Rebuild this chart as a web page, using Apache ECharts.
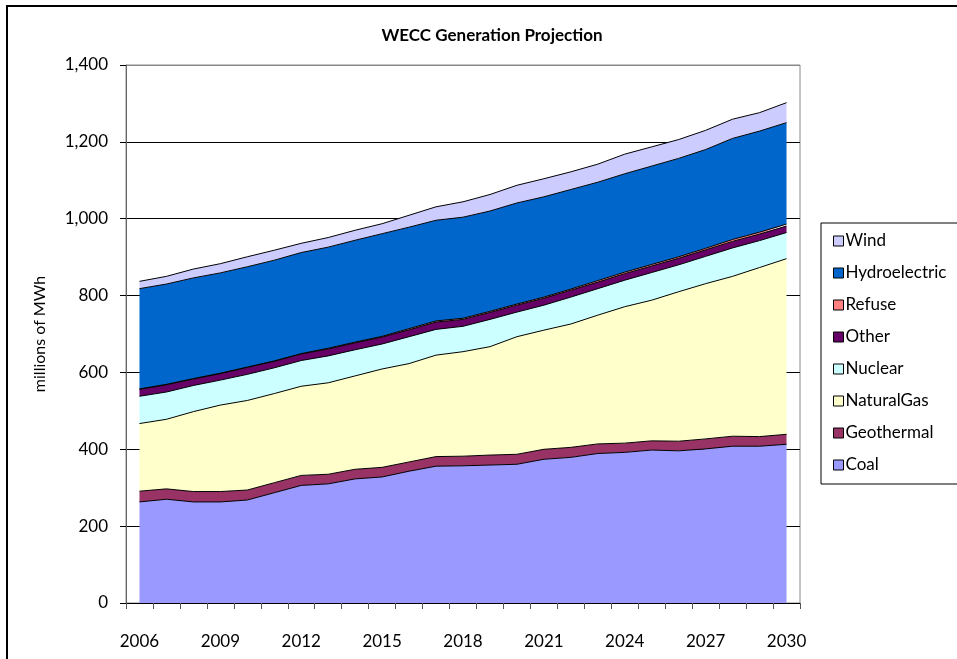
<!DOCTYPE html>
<html>
<head>
<meta charset="utf-8">
<script src="https://cdn.jsdelivr.net/npm/echarts@6/dist/echarts.min.js"></script>
<style>
html,body{margin:0;padding:0;background:#fff;}
#c{width:957px;height:659px;}
</style>
</head>
<body>
<div id="c"></div>
<script>
const years = ['2006','2007','2008','2009','2010','2011','2012','2013','2014','2015','2016','2017','2018','2019','2020','2021','2022','2023','2024','2025','2026','2027','2028','2029','2030'];
const coal =        [263,270,263,263,268,287,306,310,323,328,343,356,357,359,361,374,379,389,392,398,396,401,408,408,413];
const geothermal =  [28,27,27,27,26,26,26,25,25,25,24,25,25,26,26,26,26,25,24,24,25,26,26,25,26];
const naturalGas =  [176,181,208,225,233,232,232,238,243,256,256,264,272,282,306,310,321,335,355,366,389,404,416,440,457];
const nuclear =     [71,71,68,65,68,67,67,70,68,65,70,67,66,71,64,65,70,69,69,72,70,71,74,70,68];
const other =       [18,19,17,17,18,17,17,18,18,18,18,19,18,18,18,18,18,17,17,17,17,17,17,17,17];
const refuse =      [1,1,1,1,1,1,1,2,2,2,3,3,3,3,3,3,3,4,4,4,4,4,5,5,5];
const hydro =       [261,261,262,261,261,262,263,263,265,267,264,262,263,261,263,261,259,256,256,256,256,257,263,263,264];
const wind =        [19,20,23,24,26,26,24,25,26,26,31,35,40,43,46,47,46,47,51,50,49,50,50,48,52];
const yTicks = [0,200,400,600,800,1000,1200,1400];

const seriesDefs = [
  ['Coal', coal, '#9999FF'],
  ['Geothermal', geothermal, '#993366'],
  ['NaturalGas', naturalGas, '#FFFFCC'],
  ['Nuclear', nuclear, '#CCFFFF'],
  ['Other', other, '#660066'],
  ['Refuse', refuse, '#FF8080'],
  ['Hydroelectric', hydro, '#0066CC'],
  ['Wind', wind, '#CCCCFF']
];
const FONT = 'Lato';
const chart = echarts.init(document.getElementById('c'), null, {renderer:'canvas'});
chart.setOption({
  animation: false,
  backgroundColor: '#fff',
  title: {
    text: 'WECC Generation Projection',
    left: 487, top: 22, textAlign: 'center',
    textStyle: {fontFamily: FONT, fontSize: 17, fontWeight: 'bold', color: '#000'}
  },
  grid: {left: 126, right: 157, top: 65, bottom: 56, show: true, borderColor: '#888', borderWidth: 1, backgroundColor: 'transparent'},
  legend: {
    orient: 'vertical', left: 828, top: 226,
    icon: 'rect', itemWidth: 10, itemHeight: 10, itemGap: 12,
    itemStyle: {borderColor: '#000', borderWidth: 1},
    textStyle: {fontFamily: FONT, fontSize: 17, color: '#000', lineHeight: 20, padding: [0,0,0,-3]},
    data: ['Wind','Hydroelectric','Refuse','Other','Nuclear','NaturalGas','Geothermal','Coal'],
    selectedMode: false
  },
  xAxis: {
    type: 'category', data: years, boundaryGap: true,
    axisLine: {lineStyle: {color: '#000', width: 1}},
    axisTick: {show: true, interval: 0, length: 6, lineStyle: {color: '#555'}},
    axisLabel: {interval: 2, margin: 30, fontFamily: FONT, fontSize: 17, color: '#000'}
  },
  yAxis: {
    type: 'value', min: 0, max: 1400, interval: 200,
    name: 'millions of MWh', nameLocation: 'middle', nameGap: 78,
    nameTextStyle: {fontFamily: FONT, fontSize: 16, color: '#000'},
    axisLine: {show: true, lineStyle: {color: '#666', width: 1}},
    axisTick: {show: true, length: 6, lineStyle: {color: '#000'}},
    axisLabel: {margin: 18, fontFamily: FONT, fontSize: 17, color: '#000',
      formatter: v => v.toLocaleString('en-US')},
    splitLine: {show: true, lineStyle: {color: ['#000','#000','#000','#000','#000','#000','#000','#888'], width: 1}}
  },
  graphic: [
    {type: 'rect', shape: {x: 821, y: 223, width: 200, height: 261}, style: {fill: '#fff', stroke: '#000', lineWidth: 1}, z: -1},
    {type: 'rect', shape: {x: 7, y: 6, width: 1000, height: 700}, style: {fill: null, stroke: '#000', lineWidth: 2}, silent: true}
  ],
  series: seriesDefs.map(([name, data, color]) => ({
    name, type: 'line', stack: 'total', data,
    symbol: 'none', smooth: false,
    lineStyle: {color: '#000', width: 1},
    itemStyle: {color},
    areaStyle: {color, opacity: 1}
  }))
});
</script>
</body>
</html>
